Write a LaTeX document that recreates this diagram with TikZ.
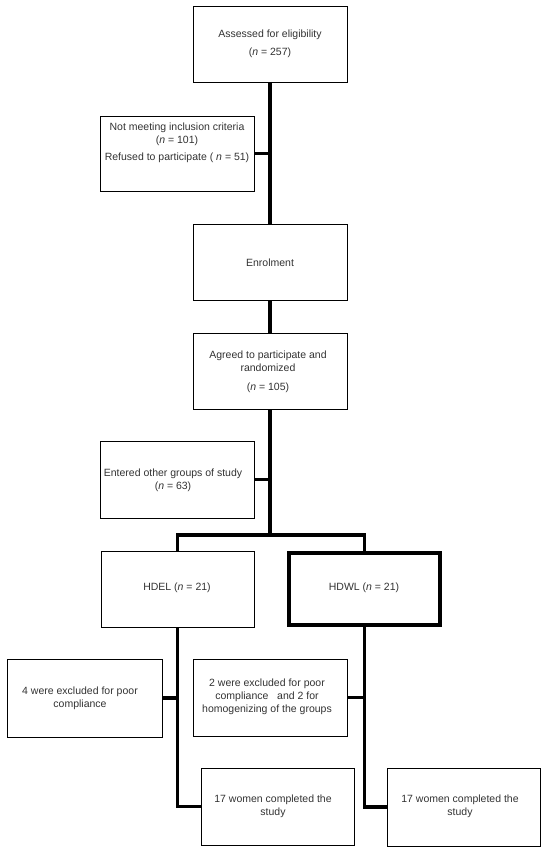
\documentclass[tikz,border=0pt]{standalone}
\usepackage{fontspec}
\setmainfont{Liberation Sans}
\begin{document}
\begin{tikzpicture}[x=1pt,y=-1pt,
  box/.style={draw, line width=0.9pt, inner sep=0pt, outer sep=0pt},
  thickbox/.style={draw, line width=4pt, inner sep=0pt, outer sep=0pt},
  txt/.style={align=center, font=\fontsize{10.5}{13}\selectfont, text=black!80, inner sep=0pt},
  conn/.style={line width=3.8pt, line join=miter}]
\useasboundingbox[fill=white] (0,0) rectangle (544,848);
% boxes
\node[box, minimum width=154pt, minimum height=76pt] (assess) at (270,44) {};
\node[box, minimum width=154pt, minimum height=75pt] (notmeet) at (177,153.5) {};
\node[box, minimum width=154pt, minimum height=76pt] (enrol) at (270,262) {};
\node[box, minimum width=154pt, minimum height=76pt] (agreed) at (270,371) {};
\node[box, minimum width=154pt, minimum height=77pt] (entered) at (177,479.5) {};
\node[box, minimum width=153pt, minimum height=76pt] (hdel) at (177.5,589) {};
\node[thickbox, minimum width=151pt, minimum height=72pt] (hdwl) at (364.5,589) {};
\node[box, minimum width=155pt, minimum height=78pt] (ex1) at (84.5,698) {};
\node[box, minimum width=154pt, minimum height=77pt] (ex2) at (270,697.5) {};
\node[box, minimum width=153pt, minimum height=77pt] (done1) at (277.5,806.5) {};
\node[box, minimum width=153pt, minimum height=78pt] (done2) at (463.5,807) {};
% connectors
\coordinate (br) at (270,535);
\draw[conn] (assess.south) -- (enrol.north);
\draw[conn] (notmeet.east) -- (notmeet.east -| assess.south);
\draw[conn] (enrol.south) -- (agreed.north);
\draw[conn] (agreed.south) -- (br);
\draw[conn] (entered.east) -- (entered.east -| br);
\draw[conn] (hdel.north) |- (br) -| (hdwl.north);
\draw[conn] (hdel.south) |- (done1.west);
\draw[conn] (hdwl.south) |- (done2.west);
\draw[conn] (ex1.east) -- (ex1.east -| hdel.south);
\draw[conn] (ex2.east) -- (ex2.east -| hdwl.south);
% texts
\node[txt] (t1) at (270,44) {Assessed for eligibility\\[5pt](\textit{n} = 257)};
\node[txt] (t2) at (177,143) {Not meeting inclusion criteria\\(\textit{n} = 101)\\[4pt]Refused to participate ( \textit{n} = 51)};
\node[txt] (t3) at (270,263) {Enrolment};
\node[txt] (t4) at (268,372) {Agreed to participate and\\randomized\\[6pt](\textit{n} = 105)};
\node[txt] (t5) at (173,480) {Entered other groups of study\\(\textit{n} = 63)};
\node[txt] (t6) at (177,588) {HDEL (\textit{n} = 21)};
\node[txt] (t7) at (364,588) {HDWL (\textit{n} = 21)};
\node[txt] (t8) at (80,698) {4 were excluded for poor\\compliance};
\node[txt] (t9) at (267,697) {2 were excluded for poor\\compliance\ \ \ and 2 for\\homogenizing of the groups};
\node[txt] (t10) at (273,806) {17 women completed the\\study};
\node[txt] (t11) at (460,806) {17 women completed the\\study};
\end{tikzpicture}
\end{document}
